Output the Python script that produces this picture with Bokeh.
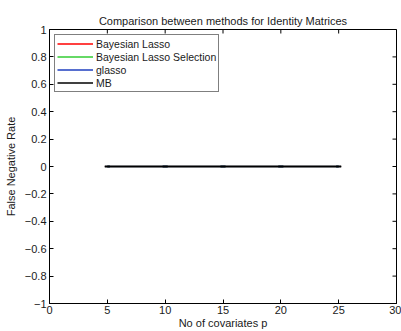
import math
from bokeh.plotting import figure
from bokeh.models import LinearAxis, Range1d, FixedTicker, CustomJSTickFormatter, Legend, LegendItem
from bokeh.embed import file_html
from bokeh.resources import INLINE

# Data
p_vals = [5, 10, 15, 20, 25]
bayes_lasso = [0, 0, 0, 0, 0]
bayes_lasso_sel = [0, 0, 0, 0, 0]
glasso = [0, 0, 0, 0, 0]
mb = [0, 0, 0, 0, 0]
series_names = ["Bayesian Lasso", "Bayesian Lasso Selection", "glasso", "MB"]
series_colors = ["#ff0000", "#33cc33", "#1f3fbf", "#000000"]
x_ticks = [0, 5, 10, 15, 20, 25, 30]
y_ticks = [-1, -0.8, -0.6, -0.4, -0.2, 0, 0.2, 0.4, 0.6, 0.8, 1]
x_lim = [0, 30]
y_lim = [-1, 1]

FONT = "Liberation Sans"
TXT = "#1a1a1a"

p = figure(width=401, height=331, output_backend="svg", toolbar_location=None,
           x_range=Range1d(*x_lim), y_range=Range1d(*y_lim),
           min_border_left=49, min_border_right=5, min_border_top=29, min_border_bottom=27,
           x_axis_location=None, y_axis_location=None)
p.title.text = "Comparison between methods for Identity Matrices"
p.title.align = "center"
p.title.text_font = FONT
p.title.text_font_size = "11px"
p.title.text_font_style = "normal"
p.title.text_color = TXT
p.title.standoff = 5
p.xgrid.visible = False
p.ygrid.visible = False
p.outline_line_color = "#000000"
p.outline_line_width = 1
p.background_fill_color = "white"
p.border_fill_color = "white"

fmt = CustomJSTickFormatter(code="""
var s = (Math.abs(tick - Math.round(tick)) < 1e-9) ? Math.round(tick).toString() : tick.toFixed(1);
return s.replace('-', '\\u2212');
""")

def style(ax):
    ax.axis_line_color = "#000000"
    ax.major_tick_line_color = "#000000"
    ax.minor_tick_line_color = None
    ax.major_tick_in = 4
    ax.major_tick_out = 0
    ax.major_label_text_font = FONT
    ax.major_label_text_font_size = "11px"
    ax.major_label_text_color = TXT
    ax.axis_label_text_font = FONT
    ax.axis_label_text_font_size = "11px"
    ax.axis_label_text_font_style = "normal"
    ax.axis_label_text_color = TXT

xb = LinearAxis(ticker=FixedTicker(ticks=x_ticks), axis_label="No of covariates p")
style(xb)
xb.major_label_standoff = 2
xb.axis_label_standoff = 0
p.add_layout(xb, "below")

yl = LinearAxis(ticker=FixedTicker(ticks=y_ticks), formatter=fmt, axis_label="False Negative Rate")
style(yl)
yl.major_label_standoff = 3
yl.axis_label_standoff = 5
p.add_layout(yl, "left")

# inward ticks on top and right edges (box on), clipped to the frame
p.scatter(x_ticks, [y_lim[1]] * len(x_ticks), marker="dash", angle=math.pi / 2,
          size=8, line_color="#000000", line_width=1)
p.scatter([x_lim[1]] * len(y_ticks), y_ticks, marker="dash",
          size=8, line_color="#000000", line_width=1)

items = []
for name, col, ys in zip(series_names, series_colors, [bayes_lasso, bayes_lasso_sel, glasso, mb]):
    r = p.line(p_vals, ys, line_color=col, line_width=1.5)
    p.scatter(p_vals, ys, marker="dash", size=5, line_color=col, line_width=1.5)
    items.append(LegendItem(label=name, renderers=[r]))

legend = Legend(items=items, location="top_left")
legend.margin = 5
legend.padding = 2
legend.spacing = 0
legend.glyph_width = 36
legend.glyph_height = 13
legend.label_height = 13
legend.label_standoff = 3
legend.label_text_font = FONT
legend.label_text_font_size = "10.5px"
legend.label_text_color = TXT
legend.border_line_color = "#000000"
legend.border_line_width = 1
legend.background_fill_color = "white"
legend.background_fill_alpha = 1
p.add_layout(legend, "center")

open("out.html", "w").write(file_html(p, INLINE))
